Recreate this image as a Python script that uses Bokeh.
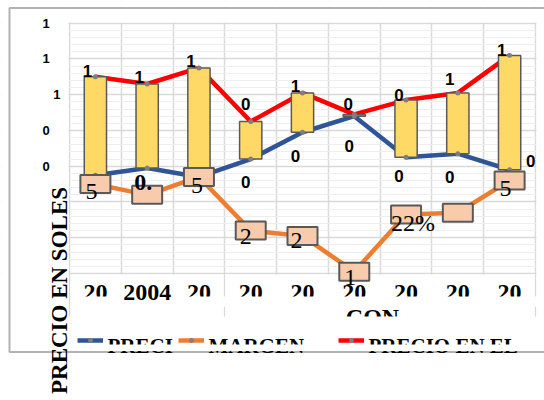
import math
from bokeh.plotting import figure
from bokeh.models import (Range1d, FixedTicker, ColumnDataSource, Legend, LegendItem,
                          Label, BoxAnnotation)
from bokeh.core.properties import value
from bokeh.embed import file_html
from bokeh.resources import INLINE

# ---------------- data ----------------
x_pos = [1, 2, 3, 4, 5, 6, 7, 8, 9]
x_tick_labels = ["20", "2004", "20", "20", "20", "20", "20", "20", "20"]
precio_chacra = [0.55, 0.59, 0.54, 0.64, 0.79, 0.88, 0.65, 0.67, 0.58]
margen = [0.50, 0.44, 0.54, 0.24, 0.21, 0.01, 0.33, 0.34, 0.52]
precio_mercado = [1.10, 1.06, 1.15, 0.85, 1.01, 0.89, 0.97, 1.01, 1.22]
y_ticks = [0.0, 0.2, 0.4, 0.6, 0.8, 1.0, 1.2, 1.4]
y_tick_labels = ["", "", "", "0", "0", "1", "1", "1"]
margen_labels = ["5", "0.", "5", "2", "2", "1", "22%", "", "5"]
chacra_labels = ["", "", "", "0", "0", "0", "0", "0", "0"]
mercado_labels = ["1", "1", "1", "0", "1", "0", "0", "1", "1"]
legend_labels = ["PRECI", "MARGEN", "PRECIO EN EL"]
y_title = "PRECIO EN SOLES"
x_title = "CON"

# ---------------- styling / layout ----------------
BLUE, ORANGE, RED = "#2F5597", "#ED7D31", "#FF0000"
BAR_FILL, EDGE, BOX_FILL = "#FFD966", "#595959", "#F8CBAD"
SERIF, SANS = "Liberation Serif", "Liberation Sans"

mercado_dx = [-8, -8, -8, -5, -7, -6, -7, -8, -8]
mercado_dy = [-6, -7, -7, -18, -7, -10, -5, -14, -5]
chacra_dx = [0, 0, 0, -5, -7, -5, -7, -8, 21]
chacra_dy = [0, 0, 0, 23, 24, 30, 19, 23, -9]
margen_dx = [-4, -4, -2, -5, -6, -4, 7, 0, -4]
margen_dy = [7, -12, 9, 6, 5, 6, 8, 0, 8]
margen_style = ["normal", "bold", "normal", "normal", "normal", "normal", "normal", "normal", "normal"]
legend_icon_x = [77, 178, 338]

# canvas and plot-area geometry (pixels)
W, H = 544, 400
PL, PR, PT, PB = 69.0, 535.0, 22.7, 273.0
x_lo, x_hi = x_pos[0] - 0.5, x_pos[-1] + 0.5
y_lo, y_hi = y_ticks[0], y_ticks[-1]
kx = (PR - PL) / (x_hi - x_lo)
ky = (PB - PT) / (y_hi - y_lo)


def dx(px):
    return x_lo + (px - PL) / kx


def dy(py):
    return y_lo + (PB - py) / ky


p = figure(width=W, height=H, output_backend="svg", toolbar_location=None,
           x_range=Range1d(dx(0), dx(W)), y_range=Range1d(dy(H), dy(0)), title=None,
           min_border=0, min_border_left=0, min_border_right=0,
           min_border_top=0, min_border_bottom=0)
p.outline_line_color = None
p.background_fill_color = "white"
p.border_fill_color = "white"

# y axis / grid
minor = []
for a, b in zip(y_ticks[:-1], y_ticks[1:]):
    for k in range(1, 5):
        minor.append(round(a + (b - a) * k / 5, 4))
yt = FixedTicker(ticks=y_ticks, minor_ticks=minor)
p.yaxis.ticker = yt
p.ygrid.ticker = yt
pad = {"1": "1\u2008\u2007", "0": "0\u2008\u2007"}
overrides = {}
for t, lab in zip(y_ticks, y_tick_labels):
    overrides[t] = lab if (t == 1.0 or lab == "") else pad[lab]
p.yaxis.major_label_overrides = overrides
p.yaxis.fixed_location = x_lo
p.yaxis.axis_line_color = None
p.yaxis.major_tick_line_color = None
p.yaxis.minor_tick_line_color = None
p.yaxis.major_tick_out = 0
p.yaxis.major_tick_in = 0
p.yaxis.major_label_standoff = 5
p.yaxis.major_label_text_font = SANS
p.yaxis.major_label_text_font_style = "bold"
p.yaxis.major_label_text_font_size = "13px"
p.yaxis.major_label_text_color = "black"
p.ygrid.grid_line_color = "#D9D9D9"
p.ygrid.grid_line_width = 1.5
p.ygrid.minor_grid_line_color = "#EEEEEE"
p.ygrid.minor_grid_line_width = 1

# x axis / grid
p.xaxis.ticker = FixedTicker(ticks=x_pos)
p.xaxis.major_label_overrides = {x: lab for x, lab in zip(x_pos, x_tick_labels)}
p.xaxis.fixed_location = y_lo
p.xaxis.axis_line_color = None
p.xaxis.major_tick_line_color = None
p.xaxis.minor_tick_line_color = None
p.xaxis.major_tick_out = 0
p.xaxis.major_tick_in = 0
p.xaxis.major_label_standoff = 11
p.xaxis.major_label_text_font = SERIF
p.xaxis.major_label_text_font_style = "bold"
p.xaxis.major_label_text_font_size = "24px"
p.xaxis.major_label_text_color = "black"
p.xgrid.ticker = FixedTicker(ticks=[x - 0.5 for x in x_pos] + [x_pos[-1] + 0.5])
p.xgrid.grid_line_color = "#D9D9D9"
p.xgrid.grid_line_width = 1.5


def box(l, r, t, b, **kw):
    return BoxAnnotation(left=dx(l), right=dx(r), top=dy(t), bottom=dy(b), **kw)


# white underlay trimming the grid to the plot area (three separators run lower)
for l, r, t, b in [(0, W, 0, PT - 0.8), (0, PL - 1, 0, H), (PR + 1, W, 0, H),
                   (PL + 1, 223, PB + 0.9, H), (225, PR - 1, PB + 0.9, H),
                   (0, W, 316, H)]:
    p.add_layout(box(l, r, t, b, fill_color="white", fill_alpha=1, line_color=None,
                     level="underlay"))

src = ColumnDataSource(dict(x=x_pos, chacra=precio_chacra, margen=margen, mercado=precio_mercado,
                            m_lab=margen_labels, c_lab=chacra_labels, r_lab=mercado_labels,
                            mdx=margen_dx, mdy=margen_dy, cdx=chacra_dx, cdy=chacra_dy,
                            rdx=mercado_dx, rdy=mercado_dy, mstyle=margen_style))

l_blue = p.line("x", "chacra", source=src, line_color=BLUE, line_width=4.5)
l_or = p.line("x", "margen", source=src, line_color=ORANGE, line_width=4.5)
l_red = p.line("x", "mercado", source=src, line_color=RED, line_width=4.5)

p.vbar(x="x", bottom="chacra", top="mercado", width=0.43, source=src,
       fill_color=BAR_FILL, line_color=EDGE, line_width=1.5)

s_blue = p.scatter("x", "chacra", source=src, size=5, fill_color="#7F7F7F", line_color=None)
s_or = p.scatter("x", "margen", source=src, size=5, fill_color="#7F7F7F", line_color=None)
s_red = p.scatter("x", "mercado", source=src, size=5, fill_color="#7F7F7F", line_color=None)

p.rect(x="x", y="margen", width=30, height=18, width_units="screen", height_units="screen",
       source=src, fill_color=BOX_FILL, line_color=EDGE, line_width=2)

p.text(x="x", y="mercado", text="r_lab", x_offset="rdx", y_offset="rdy", source=src,
       text_font=value(SANS), text_font_style="bold", text_font_size="17px",
       text_align="center", text_baseline="middle", text_color="black")
p.text(x="x", y="chacra", text="c_lab", x_offset="cdx", y_offset="cdy", source=src,
       text_font=value(SANS), text_font_style="bold", text_font_size="17px",
       text_align="center", text_baseline="middle", text_color="black")
p.text(x="x", y="margen", text="m_lab", x_offset="mdx", y_offset="mdy", source=src,
       text_font=value(SERIF), text_font_style="mstyle", text_font_size="24px",
       text_align="center", text_baseline="middle", text_color="black")

# legend keys (three separate, as in the original layout) + their (clipped) texts
for lab, rends, lx in zip(legend_labels,
                          [[l_blue, s_blue], [l_or, s_or], [l_red, s_red]],
                          legend_icon_x):
    leg = Legend(items=[LegendItem(label="", renderers=rends)], location=(lx, 48),
                 orientation="horizontal", glyph_width=26, glyph_height=12,
                 label_height=24, label_standoff=0, padding=0, margin=0, spacing=0,
                 border_line_color=None, background_fill_alpha=0, level="annotation")
    p.add_layout(leg)
    p.add_layout(Label(x=dx(lx + 30), y=dy(345), text=lab,
                       text_font=SERIF, text_font_style="bold", text_font_size="21px",
                       text_align="left", text_baseline="middle", text_color="black"))

p.add_layout(Label(x=dx(372), y=dy(316), text=x_title,
                   text_font=SERIF, text_font_style="bold", text_font_size="24px",
                   text_align="center", text_baseline="middle", text_color="black"))

# masks imitating the clipped text of the original
for l, r, t, b in [(72, 120, 296, 306), (173, 540, 296, 306), (300, 450, 316, 330),
                   (72, W, 344, 350.5), (72, W, 352.5, H)]:
    p.add_layout(box(l, r, t, b, fill_color="white", fill_alpha=1, line_color=None,
                     level="overlay"))

# outer chart border
p.add_layout(box(9, W + 20, 7.5, 351.5, fill_alpha=0, line_color="black", line_width=2,
                 level="overlay"))

p.add_layout(Label(x=dx(59), y=dy(290), text=y_title, angle=math.pi / 2,
                   text_font=SERIF, text_font_style="bold", text_font_size="23px",
                   text_align="center", text_baseline="middle", text_color="black",
                   level="overlay"))

open("out.html", "w").write(file_html(p, INLINE))
